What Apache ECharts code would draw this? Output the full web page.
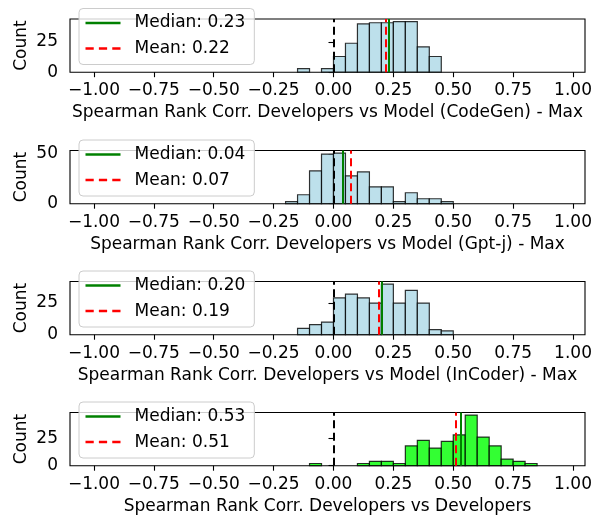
<!DOCTYPE html>
<html>
<head>
<meta charset="utf-8">
<script src="https://cdn.jsdelivr.net/npm/echarts@6/dist/echarts.min.js"></script>
<style>
html,body{margin:0;padding:0;background:#fff;}
#chart{width:599px;height:518px;}
</style>
</head>
<body>
<div id="chart"></div>
<script>
// ---- data ----
const binWidth = 0.05;
const xTickValues = [-1.0, -0.75, -0.5, -0.25, 0.0, 0.25, 0.5, 0.75, 1.0];

const codegenBinStarts = [-0.15, -0.05, 0.00, 0.05, 0.10, 0.15, 0.20, 0.25, 0.30, 0.35, 0.40];
const codegenCounts    = [3, 3, 13, 24, 40, 41, 41, 42, 42, 21, 13];
const codegenMedian = 0.23, codegenMean = 0.22;

const gptjBinStarts = [-0.20, -0.15, -0.10, -0.05, 0.00, 0.05, 0.10, 0.15, 0.20, 0.25, 0.30, 0.35, 0.40, 0.45];
const gptjCounts    = [2, 9, 33, 50, 51, 28, 32, 17, 17, 2, 11, 5, 5, 2];
const gptjMedian = 0.04, gptjMean = 0.07;

const incoderBinStarts = [-0.15, -0.10, -0.05, 0.00, 0.05, 0.10, 0.15, 0.20, 0.25, 0.30, 0.35, 0.40, 0.45];
const incoderCounts    = [5, 8, 10, 29, 32, 29, 25, 40, 25, 35, 25, 4, 3];
const incoderMedian = 0.20, incoderMean = 0.19;

const devBinStarts = [-0.10, 0.10, 0.15, 0.20, 0.25, 0.30, 0.35, 0.40, 0.45, 0.50, 0.55, 0.60, 0.65, 0.70, 0.75, 0.80];
const devCounts    = [2, 2, 4, 4, 2, 18, 23, 16, 22, 28, 46, 26, 18, 6, 4, 2];
const devMedian = 0.53, devMean = 0.51;

const xLabels = [
  'Spearman Rank Corr. Developers vs Model (CodeGen) - Max',
  'Spearman Rank Corr. Developers vs Model (Gpt-j) - Max',
  'Spearman Rank Corr. Developers vs Model (InCoder) - Max',
  'Spearman Rank Corr. Developers vs Developers'
];
const yTickValues = [[0, 25], [0, 50], [0, 25], [0, 25]];

const panels = [
  {starts: codegenBinStarts, counts: codegenCounts, median: codegenMedian, mean: codegenMean, fill: 'rgba(173,216,230,0.8)'},
  {starts: gptjBinStarts, counts: gptjCounts, median: gptjMedian, mean: gptjMean, fill: 'rgba(173,216,230,0.8)'},
  {starts: incoderBinStarts, counts: incoderCounts, median: incoderMedian, mean: incoderMean, fill: 'rgba(173,216,230,0.8)'},
  {starts: devBinStarts, counts: devCounts, median: devMedian, mean: devMean, fill: 'rgba(0,255,0,0.8)'}
];

// ---- layout / style ----
const FONT = "'DejaVu Sans'";
const FS = 17;
const gridTops = [19, 150.5, 281.5, 412.5];
const gridH = 53.2;
const solidIcon = 'path://M0,0h34v2.4h-34z';
const dashIcon = 'path://M0,0h8v2.4h-8z M13,0h8v2.4h-8z M26,0h8v2.4h-8z';

const fmt = v => (Math.round(v * 100) / 100).toFixed(2).replace('-', '\u2212');

const option = {
  animation: false,
  backgroundColor: '#fff',
  textStyle: {fontFamily: FONT},
  grid: [], xAxis: [], yAxis: [], series: [], legend: []
};

panels.forEach((p, i) => {
  const maxCount = Math.max(...p.counts);
  option.grid.push({
    left: 70, width: 515, top: gridTops[i], height: gridH,
    show: true, borderColor: '#000', borderWidth: 1.1, backgroundColor: 'transparent'
  });
  option.xAxis.push({
    type: 'value', gridIndex: i, min: -1.1, max: 1.05,
    splitLine: {show: false},
    axisLine: {show: false},
    axisTick: {show: true, customValues: xTickValues, length: 5, lineStyle: {color: '#000', width: 1.1}},
    axisLabel: {customValues: xTickValues, formatter: fmt, color: '#000', fontSize: FS, fontFamily: FONT, margin: 10},
    name: xLabels[i], nameLocation: 'middle', nameGap: 32,
    nameTextStyle: {color: '#000', fontSize: FS, fontFamily: FONT}
  });
  option.yAxis.push({
    type: 'value', gridIndex: i, min: 0, max: maxCount * 1.05,
    splitLine: {show: false},
    axisLine: {show: false},
    axisTick: {show: true, customValues: yTickValues[i], length: 5, lineStyle: {color: '#000', width: 1.1}},
    axisLabel: {customValues: yTickValues[i], color: '#000', fontSize: FS, fontFamily: FONT, margin: 12},
    name: 'Count', nameLocation: 'middle', nameGap: 40, nameRotate: 90, nameMoveOverlap: false,
    nameTextStyle: {color: '#000', fontSize: FS, fontFamily: FONT}
  });
  const barData = p.starts.map((s, k) => [s, p.counts[k]]);
  option.series.push({
    type: 'custom', xAxisIndex: i, yAxisIndex: i, silent: true,
    data: barData,
    encode: {x: 0, y: 1},
    renderItem: (params, api) => {
      const s = api.value(0), c = api.value(1);
      const p0 = api.coord([s, 0]);
      const p1 = api.coord([s + binWidth, c]);
      return {
        type: 'rect',
        shape: {x: p0[0], y: p1[1], width: p1[0] - p0[0], height: p0[1] - p1[1]},
        style: {fill: p.fill, stroke: 'rgba(0,0,0,0.8)', lineWidth: 1.2}
      };
    },
    z: 2
  });
  option.series.push({
    type: 'line', xAxisIndex: i, yAxisIndex: i, data: [], silent: true,
    markLine: {
      silent: true, symbol: ['none', 'none'], label: {show: false}, animation: false,
      lineStyle: {color: '#000', width: 2, type: [8, 4.5]},
      data: [{xAxis: 0}]
    }, z: 3
  });
  const medName = 'Median: ' + p.median.toFixed(2);
  const meanName = 'Mean: ' + p.mean.toFixed(2);
  option.series.push({
    type: 'line', name: medName, xAxisIndex: i, yAxisIndex: i, data: [], color: '#008000', silent: true,
    markLine: {
      silent: true, symbol: ['none', 'none'], label: {show: false}, animation: false,
      lineStyle: {color: '#008000', width: 2, type: 'solid'},
      data: [{xAxis: p.median}]
    }, z: 4
  });
  option.series.push({
    type: 'line', name: meanName, xAxisIndex: i, yAxisIndex: i, data: [], color: '#ff0000', silent: true,
    markLine: {
      silent: true, symbol: ['none', 'none'], label: {show: false}, animation: false,
      lineStyle: {color: '#ff0000', width: 2, type: [8, 4.5]},
      data: [{xAxis: p.mean}]
    }, z: 5
  });
  option.legend.push({
    orient: 'vertical', left: 79, top: gridTops[i] - 10.5,
    data: [{name: medName, icon: solidIcon}, {name: meanName, icon: dashIcon}],
    itemWidth: 35, itemHeight: 17, itemGap: 8.6, symbolKeepAspect: true,
    padding: [6, 9, 7.4, 6.5],
    backgroundColor: 'rgba(255,255,255,0.8)', borderColor: '#cccccc', borderWidth: 1, borderRadius: 4,
    textStyle: {color: '#000', fontSize: FS, fontFamily: FONT, padding: [0, 0, 0, 9]},
    selectedMode: false, z: 10
  });
});

const chart = echarts.init(document.getElementById('chart'), null, {renderer: 'canvas'});
chart.setOption(option);
</script>
</body>
</html>
